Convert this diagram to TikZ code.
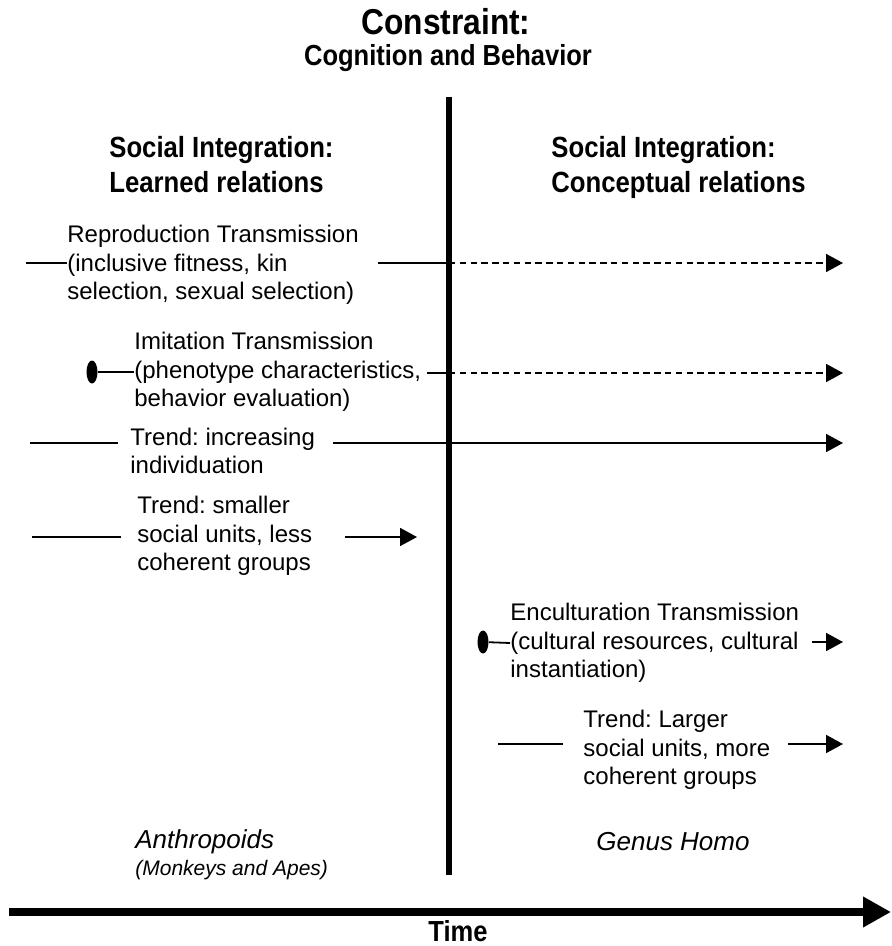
\documentclass[tikz,border=0pt]{standalone}
\usepackage{fontspec}
\setmainfont{Liberation Sans}
\newfontfamily\narrowfont[FakeStretch=0.88]{Liberation Sans}
\frenchspacing
\usetikzlibrary{positioning, arrows.meta, shapes.geometric}
\tikzset{
  link/.style={line width=0.9pt}, % plain connector
  ahead/.style={link, -{Triangle[length=8.5pt, width=9pt]}}, % connector with a head
  future/.style={ahead, dash pattern=on 3.2pt off 2.2pt}, % dashed continuation
  note/.style={align=left, inner sep=0pt, font=\fontsize{12}{14.3}\selectfont},
  heading/.style={align=left, inner sep=0pt, font=\narrowfont\bfseries\fontsize{14.6}{17.5}\selectfont},
  era/.style={inner sep=0pt, font=\itshape\fontsize{13}{15}\selectfont},
  stub/.style={ellipse, fill, inner sep=0pt, minimum width=5.5pt, minimum height=11.5pt},
}

\begin{document}
\begin{tikzpicture}[x=0.5pt, y=-0.5pt]
  \useasboundingbox (0,0) rectangle (891,946);
  % titles
  \node[font=\narrowfont\bfseries\fontsize{18}{21}\selectfont, inner sep=0pt] (constraint) at (446,22) {Constraint:};
  \node[font=\narrowfont\bfseries\fontsize{14.5}{17}\selectfont, inner sep=0pt] (cognition) at (448,58) {Cognition and Behavior};

  % divider
  \coordinate (div-top) at (449,97);
  \coordinate (div-bot) at (449,875);
  \draw[line width=3.2pt] (div-top) -- (div-bot);
  \node[heading, anchor=north west] (learned) at (109,136) {Social Integration:\\Learned relations};
  \node[heading, anchor=north west] (conceptual) at (551,136) {Social Integration:\\Conceptual relations};

  % reproduction
  \node[note, anchor=west] (repro) at (67,265) {Reproduction Transmission\\(inclusive fitness, kin\\selection, sexual selection)};
  \coordinate (repro-in) at (26,263);
  \coordinate (repro-out) at (378,263);
  \coordinate (repro-end) at (843,263);
  \draw[link] (repro-in) -- (repro-in -| repro.west);
  \draw[link] (repro-out) -- (repro-out -| div-top);
  \draw[future] (repro-out -| div-top) -- (repro-end);

  % imitation
  \node[note, anchor=west] (imit) at (134,372) {Imitation Transmission\\(phenotype characteristics,\\behavior evaluation)};
  \node[stub] (imit-dot) at (92,372) {};
  \coordinate (imit-out) at (427,373);
  \coordinate (imit-end) at (843,373);
  \draw[link] (imit-dot) -- (imit.west);
  \draw[link] (imit-out) -- (imit-out -| div-top);
  \draw[future] (imit-out -| div-top) -- (imit-end);

  % individuation
  \node[note, anchor=west] (indiv) at (130,451) {Trend: increasing\\individuation};
  \coordinate (indiv-in) at (30,443);
  \coordinate (indiv-out) at (333,443);
  \coordinate (indiv-end) at (843,443);
  \draw[link] (indiv-in) -- ([xshift=-6pt]indiv-in -| indiv.west);
  \draw[ahead] (indiv-out) -- (indiv-end);

  % smaller units
  \node[note, anchor=west] (smaller) at (137,536) {Trend: smaller\\social units, less\\coherent groups};
  \coordinate (smaller-in) at (32,537);
  \coordinate (smaller-out) at (345,537);
  \coordinate (smaller-end) at (417,537);
  \draw[link] (smaller-in) -- ([xshift=-8pt]smaller-in -| smaller.west);
  \draw[ahead] (smaller-out) -- (smaller-end);

  % enculturation
  \node[note, anchor=west] (encult) at (510,643) {Enculturation Transmission\\(cultural resources, cultural\\instantiation)};
  \node[stub] (encult-dot) at (483,642) {};
  \coordinate (encult-out) at (812,642);
  \coordinate (encult-end) at (843,642);
  \draw[link] (encult-dot) -- (encult.west);
  \draw[ahead] (encult-out) -- (encult-end);

  % larger units
  \node[note, anchor=west] (larger) at (583,750) {Trend: Larger\\social units, more\\coherent groups};
  \coordinate (larger-in) at (498,744);
  \coordinate (larger-out) at (788,744);
  \coordinate (larger-end) at (843,744);
  \draw[link] (larger-in) -- ([xshift=-10pt]larger-in -| larger.west);
  \draw[ahead] (larger-out) -- (larger-end);

  % eras
  \node[era, anchor=west] (anthro) at (135,842) {Anthropoids};
  \node[era, anchor=west, font=\itshape\fontsize{10.5}{12}\selectfont] (apes) at (135,870) {(Monkeys and Apes)};
  \node[era, anchor=west] (homo) at (596,842) {Genus Homo};

  % time axis
  \coordinate (time-start) at (9,912);
  \coordinate (time-end) at (891,912);
  \draw[line width=4pt, -{Triangle[length=14pt, width=14.5pt]}] (time-start) -- (time-end);
  \node[font=\narrowfont\bfseries\fontsize{14.5}{17}\selectfont, inner sep=0pt] (time) at (458,931) {Time};
\end{tikzpicture}
\end{document}
